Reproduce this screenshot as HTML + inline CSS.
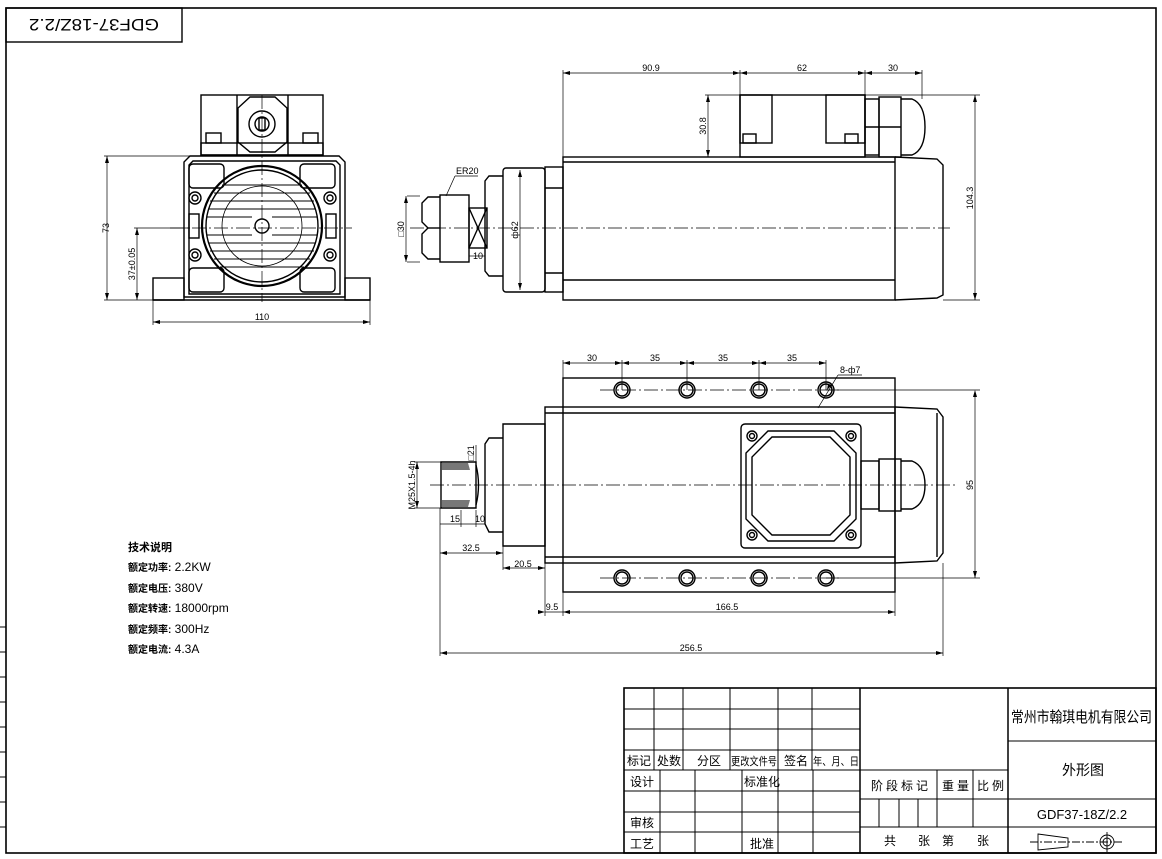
<!DOCTYPE html>
<html><head><meta charset="utf-8"><style>
html,body{margin:0;padding:0;background:#fff}
svg{display:block}
text{font-family:"Liberation Sans","Noto Sans CJK SC",sans-serif;fill:#000}
</style></head><body>
<svg width="1162" height="859" viewBox="0 0 1162 859" xmlns="http://www.w3.org/2000/svg">
<g fill="none" stroke="#000" stroke-width="1.4">
<!-- frame -->
<rect x="6" y="8" width="1150" height="845" stroke-width="1.6"/>
<rect x="6" y="8" width="176" height="34"/>
<g stroke-width="1"><line x1="0" y1="627" x2="6" y2="627"/><line x1="0" y1="652" x2="6" y2="652"/><line x1="0" y1="677" x2="6" y2="677"/><line x1="0" y1="702" x2="6" y2="702"/><line x1="0" y1="727" x2="6" y2="727"/><line x1="0" y1="752" x2="6" y2="752"/><line x1="0" y1="777" x2="6" y2="777"/><line x1="0" y1="802" x2="6" y2="802"/><line x1="0" y1="827" x2="6" y2="827"/></g>

<!-- FRONT VIEW -->
<rect x="201" y="95" width="122" height="60"/>
<line x1="237" y1="95" x2="237" y2="155"/><line x1="288" y1="95" x2="288" y2="155"/>
<polygon points="250,97 275,97 287,108 287,142 275,152 250,152 238,142 238,108"/>
<circle cx="262" cy="124" r="13"/><circle cx="262" cy="124" r="7"/><rect x="259" y="118" width="6" height="12"/>
<rect x="206" y="133" width="15" height="10"/><rect x="303" y="133" width="15" height="10"/>
<rect x="201" y="143" width="122" height="12"/>
<path d="M190,156 H339 L345,162 V297 H184 V162 Z"/>
<path d="M193,161 H336 L340,165 V294 H189 V165 Z"/>
<rect x="153" y="278" width="31" height="22"/><rect x="345" y="278" width="25" height="22"/>
<line x1="153" y1="300" x2="370" y2="300"/>
<rect x="189" y="164" width="35" height="24" rx="4"/><rect x="300" y="164" width="35" height="24" rx="4"/>
<rect x="189" y="268" width="35" height="24" rx="4"/><rect x="300" y="268" width="35" height="24" rx="4"/>
<circle cx="262" cy="226" r="60" stroke-width="2.2"/><circle cx="262" cy="226" r="56"/>
<circle cx="262" cy="226" r="40" stroke-width="0.8"/>
<g stroke-width="1.1">
<line x1="222" y1="185" x2="302" y2="185"/><line x1="214" y1="193" x2="310" y2="193"/><line x1="210" y1="201" x2="314" y2="201"/><line x1="208" y1="209" x2="316" y2="209"/><line x1="207" y1="217" x2="252" y2="217"/><line x1="272" y1="217" x2="317" y2="217"/>
<line x1="207" y1="235" x2="252" y2="235"/><line x1="272" y1="235" x2="317" y2="235"/><line x1="208" y1="243" x2="316" y2="243"/><line x1="210" y1="251" x2="314" y2="251"/><line x1="214" y1="259" x2="310" y2="259"/><line x1="220" y1="267" x2="304" y2="267"/>
</g>
<circle cx="262" cy="226" r="7"/>
<circle cx="195" cy="198" r="6"/><circle cx="195" cy="198" r="3"/>
<circle cx="195" cy="255" r="6"/><circle cx="195" cy="255" r="3"/>
<circle cx="330" cy="198" r="6"/><circle cx="330" cy="198" r="3"/>
<circle cx="330" cy="255" r="6"/><circle cx="330" cy="255" r="3"/>
<rect x="189" y="214" width="10" height="24"/><rect x="326" y="214" width="10" height="24"/>
<g stroke-width="0.7" stroke-dasharray="14,3,2,3"><line x1="262" y1="95" x2="262" y2="302"/><line x1="170" y1="228" x2="352" y2="228"/></g>
<g stroke-width="0.7">
<line x1="104" y1="156" x2="190" y2="156"/><line x1="104" y1="300" x2="153" y2="300"/>
<line x1="107" y1="156" x2="107" y2="300"/>
<line x1="134" y1="228" x2="190" y2="228"/><line x1="137" y1="228" x2="137" y2="300"/>
<line x1="153" y1="300" x2="153" y2="325"/><line x1="370" y1="300" x2="370" y2="325"/>
<line x1="153" y1="322" x2="370" y2="322"/>
</g>

<!-- SIDE VIEW TOP -->
<rect x="563" y="157" width="332" height="143"/>
<line x1="563" y1="162" x2="895" y2="162"/><line x1="563" y1="280" x2="895" y2="280"/>
<path d="M895,157 L937,159 L943,165 V295 L937,298 L895,300"/>
<rect x="740" y="95" width="125" height="62"/>
<rect x="740" y="95" width="32" height="48"/><rect x="826" y="95" width="39" height="48"/>
<rect x="743" y="134" width="13" height="9"/><rect x="845" y="134" width="13" height="9"/>
<rect x="865" y="99" width="14" height="56"/><rect x="879" y="97" width="22" height="60"/>
<line x1="865" y1="127" x2="901" y2="127"/>
<path d="M901,99 H912 Q925,104 925,127 Q925,150 912,155 H901"/>
<rect x="545" y="167" width="18" height="125"/>
<line x1="545" y1="188" x2="563" y2="188"/><line x1="545" y1="273" x2="563" y2="273"/>
<rect x="503" y="168" width="42" height="124" rx="3"/>
<path d="M503,176 H489 L485,181 V271 L489,276 H503"/>
<rect x="469" y="208" width="18" height="40"/><line x1="469" y1="208" x2="487" y2="248"/><line x1="487" y1="208" x2="469" y2="248"/>
<rect x="440" y="195" width="29" height="67"/>
<path d="M440,197 H428 L422,203 V222 L428,228 L422,234 V253 L428,259 H440"/>
<line x1="428" y1="228" x2="440" y2="228"/>
<g stroke-width="0.7" stroke-dasharray="14,3,2,3"><line x1="410" y1="228" x2="950" y2="228"/></g>
<g stroke-width="0.7">
<line x1="563" y1="70" x2="563" y2="157"/><line x1="740" y1="70" x2="740" y2="95"/><line x1="865" y1="70" x2="865" y2="95"/><line x1="922" y1="70" x2="922" y2="99"/>
<line x1="563" y1="73" x2="922" y2="73"/>
<line x1="705" y1="95" x2="980" y2="95"/><line x1="708" y1="95" x2="708" y2="157"/>
<line x1="943" y1="300" x2="980" y2="300"/><line x1="975" y1="95" x2="975" y2="300"/>
<line x1="407" y1="196" x2="420" y2="196"/><line x1="407" y1="262" x2="420" y2="262"/><line x1="406" y1="196" x2="406" y2="262"/>
<line x1="520" y1="170" x2="520" y2="290"/>
<line x1="469" y1="256" x2="485" y2="256"/>
<line x1="455" y1="176" x2="478" y2="176"/><line x1="455" y1="176" x2="446" y2="196"/>
</g>

<!-- BOTTOM VIEW -->
<rect x="563" y="378" width="332" height="214"/>
<rect x="545" y="407" width="350" height="156"/>
<line x1="545" y1="413" x2="895" y2="413"/><line x1="545" y1="557" x2="895" y2="557"/>
<path d="M895,407 L937,409 L943,417 V553 L937,561 L895,563"/>
<line x1="937" y1="413" x2="937" y2="557"/>
<path d="M503,424 H545 V546 H503 Z"/>
<path d="M503,438 H489 L485,444 V524 L489,532 H503"/>
<rect x="741" y="424" width="120" height="124" rx="4"/>
<polygon points="768,431 834,431 856,453 856,519 834,541 768,541 746,519 746,453"/>
<polygon points="772,437 830,437 850,457 850,515 830,535 772,535 752,515 752,457"/>
<circle cx="752" cy="436" r="5"/><circle cx="752" cy="436" r="2.5"/>
<circle cx="851" cy="436" r="5"/><circle cx="851" cy="436" r="2.5"/>
<circle cx="752" cy="535" r="5"/><circle cx="752" cy="535" r="2.5"/>
<circle cx="851" cy="535" r="5"/><circle cx="851" cy="535" r="2.5"/>
<rect x="861" y="461" width="18" height="48"/><rect x="879" y="459" width="22" height="52"/>
<path d="M901,461 H912 Q925,466 925,485 Q925,504 912,509 H901"/>
<path d="M476,462 V508 M441,462 H476 V508 H441 Z"/>
<path d="M476,465 Q481,485 476,505"/>
<g fill="#777" stroke="none"><path d="M442,463 H468 L470,470 H442 Z"/><path d="M442,500 H470 L468,507 H442 Z"/></g>
<g>
<circle cx="622" cy="390" r="8"/><circle cx="622" cy="390" r="6"/>
<circle cx="687" cy="390" r="8"/><circle cx="687" cy="390" r="6"/>
<circle cx="759" cy="390" r="8"/><circle cx="759" cy="390" r="6"/>
<circle cx="826" cy="390" r="8"/><circle cx="826" cy="390" r="6"/>
<circle cx="622" cy="578" r="8"/><circle cx="622" cy="578" r="6"/>
<circle cx="687" cy="578" r="8"/><circle cx="687" cy="578" r="6"/>
<circle cx="759" cy="578" r="8"/><circle cx="759" cy="578" r="6"/>
<circle cx="826" cy="578" r="8"/><circle cx="826" cy="578" r="6"/>
</g>
<g stroke-width="0.7" stroke-dasharray="14,3,2,3">
<line x1="430" y1="485" x2="955" y2="485"/><line x1="600" y1="390" x2="840" y2="390"/><line x1="600" y1="578" x2="840" y2="578"/>
</g>
<g stroke-width="0.7">
<line x1="563" y1="360" x2="563" y2="378"/><line x1="622" y1="360" x2="622" y2="390"/><line x1="687" y1="360" x2="687" y2="390"/><line x1="759" y1="360" x2="759" y2="390"/><line x1="826" y1="360" x2="826" y2="390"/>
<line x1="563" y1="363" x2="826" y2="363"/>
<line x1="826" y1="390" x2="980" y2="390"/><line x1="826" y1="578" x2="980" y2="578"/><line x1="975" y1="392" x2="975" y2="578"/>
<line x1="818" y1="408" x2="838" y2="375"/><line x1="838" y1="375" x2="862" y2="375"/>
<line x1="545" y1="563" x2="545" y2="616"/><line x1="563" y1="592" x2="563" y2="616"/><line x1="895" y1="592" x2="895" y2="616"/>
<line x1="545" y1="612" x2="895" y2="612"/>
<line x1="440" y1="508" x2="440" y2="656"/><line x1="943" y1="563" x2="943" y2="656"/><line x1="440" y1="653" x2="943" y2="653"/>
<line x1="440" y1="553" x2="503" y2="553"/><line x1="503" y1="546" x2="503" y2="570"/>
<line x1="503" y1="568" x2="545" y2="568"/>
<line x1="440" y1="524" x2="485" y2="524"/><line x1="461" y1="510" x2="461" y2="527"/><line x1="476" y1="510" x2="476" y2="527"/>
<line x1="414" y1="462" x2="441" y2="462"/><line x1="414" y1="508" x2="441" y2="508"/><line x1="417" y1="462" x2="417" y2="508"/>
<line x1="476" y1="445" x2="476" y2="462"/>
</g>

<!-- TITLE BLOCK -->
<g stroke-width="1">
<rect x="624" y="688" width="532" height="165" stroke-width="1.6"/>
<line x1="624" y1="709" x2="860" y2="709"/><line x1="624" y1="729" x2="860" y2="729"/><line x1="624" y1="750" x2="860" y2="750"/><line x1="624" y1="770" x2="1008" y2="770"/>
<line x1="624" y1="791" x2="860" y2="791"/><line x1="624" y1="812" x2="860" y2="812"/><line x1="624" y1="832" x2="860" y2="832"/>
<line x1="654" y1="688" x2="654" y2="770"/><line x1="683" y1="688" x2="683" y2="770"/><line x1="730" y1="688" x2="730" y2="770"/><line x1="778" y1="688" x2="778" y2="770"/><line x1="812" y1="688" x2="812" y2="770"/>
<line x1="660" y1="770" x2="660" y2="853"/><line x1="695" y1="770" x2="695" y2="853"/><line x1="742" y1="770" x2="742" y2="853"/><line x1="778" y1="770" x2="778" y2="853"/><line x1="813" y1="770" x2="813" y2="853"/>
<line x1="860" y1="688" x2="860" y2="853" stroke-width="1.5"/>
<line x1="1008" y1="688" x2="1008" y2="853" stroke-width="1.5"/>
<line x1="860" y1="799" x2="1008" y2="799"/><line x1="860" y1="827" x2="1156" y2="827"/>
<line x1="1008" y1="741" x2="1156" y2="741"/><line x1="1008" y1="799" x2="1156" y2="799"/>
<line x1="937" y1="770" x2="937" y2="827"/><line x1="973" y1="770" x2="973" y2="827"/>
<line x1="879" y1="799" x2="879" y2="827"/><line x1="899" y1="799" x2="899" y2="827"/><line x1="918" y1="799" x2="918" y2="827"/>
</g>
<g stroke-width="0.9">
<polygon points="1038,834 1068,838 1068,847 1038,850"/>
<line x1="1030" y1="842" x2="1122" y2="842" stroke-dasharray="8,2,2,2"/>
<circle cx="1107" cy="842" r="7"/><circle cx="1107" cy="842" r="4"/><line x1="1107" y1="832" x2="1107" y2="852"/>
</g>
</g>

<!-- arrowheads -->
<g fill="#000">
<path d="M563,73 l7,-2 v4z"/><path d="M740,73 l-7,-2 v4z"/><path d="M740,73 l7,-2 v4z"/><path d="M865,73 l-7,-2 v4z"/><path d="M865,73 l7,-2 v4z"/><path d="M922,73 l-7,-2 v4z"/>
<path d="M708,95 l-2,7 h4z"/><path d="M708,157 l-2,-7 h4z"/>
<path d="M975,95 l-2,7 h4z"/><path d="M975,300 l-2,-7 h4z"/>
<path d="M107,156 l-2,7 h4z"/><path d="M107,300 l-2,-7 h4z"/>
<path d="M137,228 l-2,7 h4z"/><path d="M137,300 l-2,-7 h4z"/>
<path d="M153,322 l7,-2 v4z"/><path d="M370,322 l-7,-2 v4z"/>
<path d="M406,196 l-2,7 h4z"/><path d="M406,262 l-2,-7 h4z"/>
<path d="M520,170 l-2,7 h4z"/><path d="M520,290 l-2,-7 h4z"/>
<path d="M563,363 l7,-2 v4z"/><path d="M622,363 l-7,-2 v4z"/><path d="M622,363 l7,-2 v4z"/><path d="M687,363 l-7,-2 v4z"/><path d="M687,363 l7,-2 v4z"/><path d="M759,363 l-7,-2 v4z"/><path d="M759,363 l7,-2 v4z"/><path d="M826,363 l-7,-2 v4z"/>
<path d="M975,390 l-2,7 h4z"/><path d="M975,578 l-2,-7 h4z"/>
<path d="M563,612 l7,-2 v4z"/><path d="M895,612 l-7,-2 v4z"/><path d="M545,612 l-7,-2 v4z"/>
<path d="M440,653 l7,-2 v4z"/><path d="M943,653 l-7,-2 v4z"/>
<path d="M440,553 l7,-2 v4z"/><path d="M503,553 l-7,-2 v4z"/>
<path d="M503,568 l7,-2 v4z"/><path d="M545,568 l-7,-2 v4z"/>
<path d="M417,462 l-2,7 h4z"/><path d="M417,508 l-2,-7 h4z"/>
<path d="M832,385 l-5,5 l1,-6z"/>
</g>

<!-- texts -->
<text x="94" y="31" font-size="17" text-anchor="middle" transform="rotate(180 94 25)" textLength="130" lengthAdjust="spacingAndGlyphs">GDF37-18Z/2.2</text>
<g font-size="9">
<text x="262" y="320" text-anchor="middle">110</text>
<text x="105" y="232" transform="rotate(-90 105 228)" text-anchor="middle">73</text>
<text x="135" y="264" transform="rotate(-90 135 264)" text-anchor="middle">37±0.05</text>
<text x="651" y="71" text-anchor="middle">90.9</text>
<text x="802" y="71" text-anchor="middle">62</text>
<text x="893" y="71" text-anchor="middle">30</text>
<text x="706" y="126" transform="rotate(-90 706 126)" text-anchor="middle">30.8</text>
<text x="973" y="198" transform="rotate(-90 973 198)" text-anchor="middle">104.3</text>
<text x="456" y="174">ER20</text>
<text x="404" y="229" transform="rotate(-90 404 229)" text-anchor="middle">□30</text>
<text x="518" y="230" transform="rotate(-90 518 230)" text-anchor="middle">ф62</text>
<text x="478" y="259" text-anchor="middle">10</text>
<text x="592" y="361" text-anchor="middle">30</text>
<text x="655" y="361" text-anchor="middle">35</text>
<text x="723" y="361" text-anchor="middle">35</text>
<text x="792" y="361" text-anchor="middle">35</text>
<text x="840" y="373">8-ф7</text>
<text x="973" y="485" transform="rotate(-90 973 485)" text-anchor="middle">95</text>
<text x="474" y="453" transform="rotate(-90 474 453)" text-anchor="middle">□21</text>
<text x="415" y="485" transform="rotate(-90 415 485)" text-anchor="middle">M25X1.5-4h</text>
<text x="455" y="522" text-anchor="middle">15</text>
<text x="468" y="522" text-anchor="middle" dx="12">10</text>
<text x="471" y="551" text-anchor="middle">32.5</text>
<text x="523" y="567" text-anchor="middle">20.5</text>
<text x="552" y="610" text-anchor="middle">9.5</text>
<text x="727" y="610" text-anchor="middle">166.5</text>
<text x="691" y="651" text-anchor="middle">256.5</text>
</g>
<g font-size="11" font-weight="bold">
<text x="128" y="551">技术说明</text>
</g>
<g font-size="12">
<text x="128" y="571"><tspan font-size="10" font-weight="bold">额定功率:</tspan> 2.2KW</text>
<text x="128" y="592"><tspan font-size="10" font-weight="bold">额定电压:</tspan> 380V</text>
<text x="128" y="612"><tspan font-size="10" font-weight="bold">额定转速:</tspan> 18000rpm</text>
<text x="128" y="633"><tspan font-size="10" font-weight="bold">额定频率:</tspan> 300Hz</text>
<text x="128" y="653"><tspan font-size="10" font-weight="bold">额定电流:</tspan>  4.3A</text>
</g>
<g font-size="12">
<text x="627" y="765">标记</text><text x="657" y="765">处数</text><text x="697" y="765">分区</text>
<text x="731" y="765" font-size="11" textLength="46" lengthAdjust="spacingAndGlyphs">更改文件号</text><text x="784" y="765">签名</text><text x="813" y="765" font-size="11" textLength="46" lengthAdjust="spacingAndGlyphs">年、月、日</text>
<text x="630" y="786">设计</text><text x="744" y="786">标准化</text>
<text x="630" y="827">审核</text><text x="630" y="848">工艺</text><text x="750" y="848">批准</text>
<text x="871" y="790" letter-spacing="3">阶段标记</text><text x="942" y="790" letter-spacing="3">重量</text><text x="977" y="790" letter-spacing="3">比例</text>
<text x="884" y="845">共</text><text x="918" y="845">张</text><text x="942" y="845">第</text><text x="977" y="845">张</text>
<text x="1011" y="722" font-size="15" textLength="141" lengthAdjust="spacingAndGlyphs">常州市翰琪电机有限公司</text>
<text x="1083" y="775" font-size="14" text-anchor="middle">外形图</text>
<text x="1082" y="819" font-size="13" text-anchor="middle">GDF37-18Z/2.2</text>
</g>
</svg>
</body></html>
